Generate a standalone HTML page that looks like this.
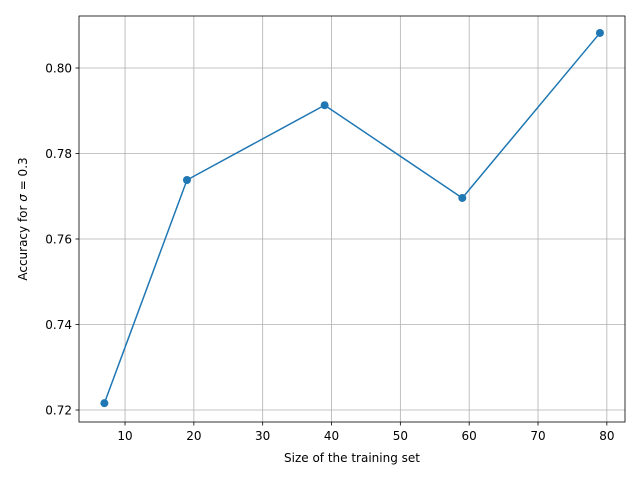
<!DOCTYPE html>
<html><head><meta charset="utf-8"><style>
body{margin:0;background:#fff;}
svg{display:block;font-family:"DejaVu Sans","Liberation Sans",sans-serif;}
</style></head><body>
<svg id="chart" width="640" height="480" viewBox="0 0 640 480"></svg>
<script>
const xValues=[7,19,39,59,79];
const yValues=[0.7216,0.7738,0.7913,0.7696,0.8082];
const xTicks=[10,20,30,40,50,60,70,80];
const yTicks=[0.72,0.74,0.76,0.78,0.80];
const yTickLabels=["0.72","0.74","0.76","0.78","0.80"];
const L=79,R=625,T=16,B=422;
const xs=v=>56.2+(v)*6.883;
const ys=v=>410-(v-0.72)*4275;
const svg=document.getElementById('chart');
const NS='http://www.w3.org/2000/svg';
function mk(tag,attrs,parent){const e=document.createElementNS(NS,tag);for(const k in attrs)e.setAttribute(k,attrs[k]);(parent||svg).appendChild(e);return e;}
const grid=mk('g',{});


xTicks.forEach(t=>{const x=xs(t);
const g=mk('line',{x1:x,x2:x,y1:T,y2:B,stroke:'#b0b0b0','stroke-width':0.8},grid);

const tk=mk('line',{x1:x,x2:x,y1:B,y2:B+3.5,stroke:'#000','stroke-width':0.8});

const tx=mk('text',{x:x,y:B+18,'text-anchor':'middle','font-size':12,fill:'#000'});tx.textContent=t;
});
yTicks.forEach((t,i)=>{const y=ys(t);
const g=mk('line',{x1:L,x2:R,y1:y,y2:y,stroke:'#b0b0b0','stroke-width':0.8},grid);

const tk=mk('line',{x1:L-3.5,x2:L,y1:y,y2:y,stroke:'#000','stroke-width':0.8});

const tx=mk('text',{x:L-7,y:y+4.3,'text-anchor':'end','font-size':12,fill:'#000'});tx.textContent=yTickLabels[i];
});
const line=mk('polyline',{points:xValues.map((v,i)=>xs(v)+','+ys(yValues[i])).join(' '),fill:'none',stroke:'#1f77b4','stroke-width':1.5});

xValues.forEach((v,i)=>{const c=mk('circle',{cx:xs(v),cy:ys(yValues[i]),r:4,fill:'#1f77b4'});
});
const fr=mk('rect',{x:L,y:T,width:R-L,height:B-T,fill:'none',stroke:'#000','stroke-width':0.8});

const xt=mk('text',{x:(L+R)/2,y:462,'text-anchor':'middle','font-size':12,fill:'#000'});xt.textContent='Size of the training set';

const yt=mk('text',{x:0,y:0,transform:'translate(27,219) rotate(-90)','text-anchor':'middle','font-size':12,fill:'#000'});
yt.innerHTML='Accuracy for <tspan font-style="italic">σ</tspan> = 0.3';

</script>
</body></html>
